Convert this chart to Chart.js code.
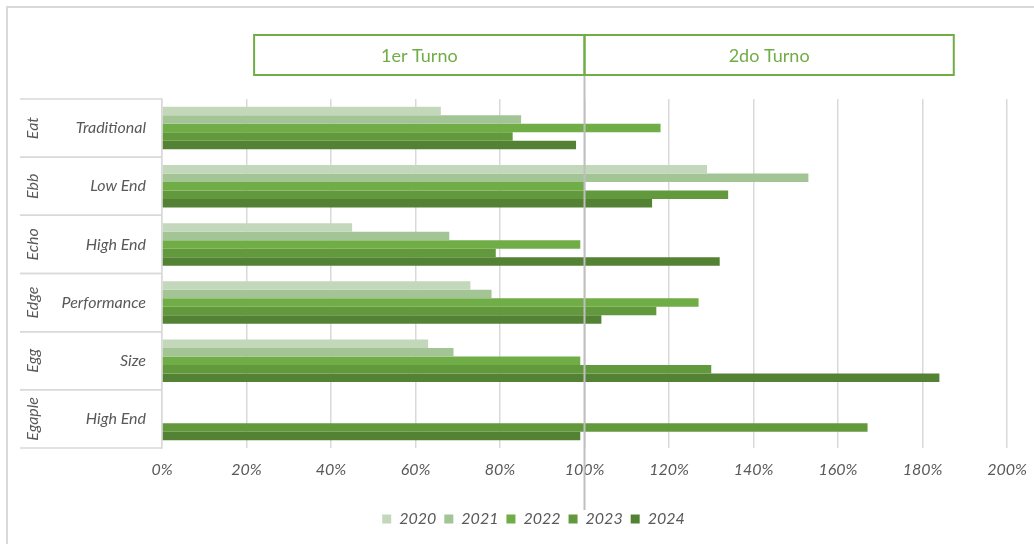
<!DOCTYPE html>
<html>
<head>
<meta charset="utf-8">
<title>Turnos por segmento</title>
<script src="https://cdn.jsdelivr.net/npm/chart.js@4/dist/chart.umd.min.js"></script>
<style>
  html, body { margin: 0; padding: 0; background: #ffffff; }
</style>
</head>
<body>
<canvas id="chart" width="1034" height="544"></canvas>
<script>
// Two-level categories: outer group (rotated) and inner segment
const groups = ['Eat', 'Ebb', 'Echo', 'Edge', 'Egg', 'Egaple'];
const segments = ['Traditional', 'Low End', 'High End', 'Performance', 'Size', 'High End'];
const years = ['2020', '2021', '2022', '2023', '2024'];

// Percent values per year, one entry per segment
const values2020 = [66, 129, 45, 73, 63, null];
const values2021 = [85, 153, 68, 78, 69, null];
const values2022 = [118, 100, 99, 127, 99, null];
const values2023 = [83, 134, 79, 117, 130, 167];
const values2024 = [98, 116, 132, 104, 184, 99];

const turnLabels = ['1er Turno', '2do Turno'];
const xMin = 0;
const xMax = 200;
const xStep = 20;

const yearColors = ['#c3d7bb', '#a3c595', '#70ad47', '#62993d', '#548235'];
const seriesValues = [values2020, values2021, values2022, values2023, values2024];

const FONT = 'Lato, "Open Sans", sans-serif';
const TEXT_GREY = '#595959';
const LINE_GREY = '#d9d9d9';
const GREEN = '#70ad47';

// Frame, 100% divider, turn boxes and the two-level category labels
const decorations = {
    id: 'decorations',
    beforeDraw(chart) {
        const ctx = chart.ctx;
        ctx.save();
        ctx.strokeStyle = LINE_GREY;
        ctx.lineWidth = 2;
        ctx.strokeRect(7, 7, chart.width + 20, chart.height + 20);
        ctx.restore();
    },
    afterDatasetsDraw(chart) {
        const ctx = chart.ctx;
        const x = chart.scales.x;
        const y = chart.scales.y;
        const area = chart.chartArea;
        const mid = x.getPixelForValue(100);

        ctx.save();

        // 100% reference line
        ctx.strokeStyle = '#bfbfbf';
        ctx.lineWidth = 2;
        ctx.beginPath();
        ctx.moveTo(mid, 75);
        ctx.lineTo(mid, 510);
        ctx.stroke();

        // turn boxes
        const boxTop = 35, boxH = 40;
        const boxes = [
            [x.getPixelForValue(21.8), mid],
            [mid, x.getPixelForValue(187.4)]
        ];
        ctx.strokeStyle = GREEN;
        ctx.lineWidth = 2;
        ctx.fillStyle = GREEN;
        ctx.font = '18px ' + FONT;
        ctx.textAlign = 'center';
        ctx.textBaseline = 'middle';
        boxes.forEach(function (b, i) {
            ctx.strokeRect(b[0], boxTop, b[1] - b[0], boxH);
            ctx.fillText(turnLabels[i], (b[0] + b[1]) / 2, boxTop + boxH / 2 + 1);
        });

        // category labels and separators
        const half = (y.getPixelForValue(1) - y.getPixelForValue(0)) / 2;
        ctx.strokeStyle = LINE_GREY;
        ctx.lineWidth = 1.5;
        ctx.fillStyle = TEXT_GREY;
        ctx.font = 'italic 16px ' + FONT;
        groups.forEach(function (g, i) {
            const c = y.getPixelForValue(i);
            ctx.beginPath();
            ctx.moveTo(20, c - half);
            ctx.lineTo(area.left, c - half);
            ctx.moveTo(20, c + half);
            ctx.lineTo(area.left, c + half);
            ctx.stroke();

            ctx.textAlign = 'right';
            ctx.fillText(segments[i], 146, c);

            ctx.save();
            ctx.translate(33, c);
            ctx.rotate(-Math.PI / 2);
            ctx.textAlign = 'center';
            ctx.fillText(g, 0, 0);
            ctx.restore();
        });

        ctx.restore();
    }
};

const datasets = years.map(function (yr, i) {
    return {
        label: yr,
        data: seriesValues[i],
        backgroundColor: yearColors[i],
        borderWidth: 0,
        categoryPercentage: 0.73,
        barPercentage: 1
    };
});

new Chart(document.getElementById('chart'), {
    type: 'bar',
    data: { labels: segments, datasets: datasets },
    plugins: [decorations],
    options: {
        responsive: false,
        animation: false,
        indexAxis: 'y',
        layout: { padding: { top: 99, right: 27, bottom: 7, left: 60 } },
        plugins: {
            tooltip: { enabled: false },
            legend: {
                position: 'bottom',
                labels: {
                    boxWidth: 9,
                    boxHeight: 9,
                    padding: 8,
                    color: TEXT_GREY,
                    font: { family: FONT, size: 16, style: 'italic' }
                }
            }
        },
        scales: {
            x: {
                min: xMin,
                max: xMax,
                ticks: {
                    stepSize: xStep,
                    padding: 12,
                    color: TEXT_GREY,
                    font: { family: FONT, size: 16, style: 'italic' },
                    callback: function (v) { return v + '%'; }
                },
                grid: { color: LINE_GREY, lineWidth: 1.5, drawTicks: false },
                border: { display: false },
                afterFit: function (scale) {
                    scale.height = 55;
                    scale.paddingLeft = 0;
                    scale.paddingRight = 0;
                }
            },
            y: {
                ticks: { display: false },
                grid: { display: false },
                border: { color: LINE_GREY, width: 1.5 },
                afterFit: function (scale) { scale.width = 102; }
            }
        }
    }
});
</script>
</body>
</html>
